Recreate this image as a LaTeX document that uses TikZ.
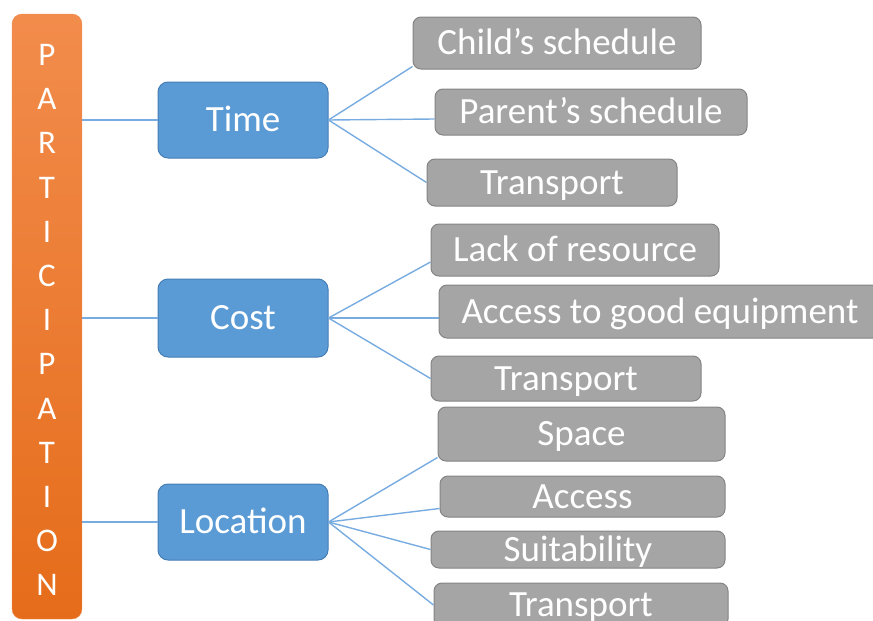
\documentclass[tikz,border=0pt]{standalone}
\usepackage{fontspec}
\setmainfont{Carlito}
\usepackage{tikz}
\usetikzlibrary{positioning}

\definecolor{barTop}{RGB}{242,140,76}
\definecolor{barBottom}{RGB}{229,108,26}
\definecolor{topicBlue}{RGB}{91,155,213}
\definecolor{topicEdge}{RGB}{70,125,180}
\definecolor{factorGray}{RGB}{165,165,165}
\definecolor{factorEdge}{RGB}{132,132,132}
\definecolor{linkBlue}{RGB}{120,172,224}

\begin{document}
\begin{tikzpicture}[
    x=1pt, y=-1pt,
    every node/.style = {
      shape=rectangle,
      rounded corners=8pt,
      align=center,
      inner sep=0pt,
      text=white
    },
    topic/.style = {
      fill=topicBlue, draw=topicEdge, line width=1pt,
      minimum width=170pt, rounded corners=10pt,
      font=\fontsize{37}{42}\selectfont,
      text height=23pt, text depth=0pt
    },
    factor/.style = {
      fill=factorGray, draw=factorEdge, line width=1pt,
      font=\fontsize{37}{42}\selectfont,
      text height=23pt, text depth=0pt
    },
    link/.style = {draw=linkBlue, line width=1.4pt}
  ]
    \useasboundingbox (0,0) rectangle (873,621);
    \clip (0,0) rectangle (873,621);

    % Participation bar
    \node[top color=barTop, bottom color=barBottom, draw=barTop,
      minimum width=70pt, minimum height=605pt, rounded corners=10pt]
      (bar) at (47,316.5) {};
    \foreach \ltr [count=\i] in {P,A,R,T,I,C,I,P,A,T,I,O,N}
      \node[font=\fontsize{33}{38}\selectfont, text height=21pt, text depth=0pt]
        (letter\i) at (47,{55+44.2*(\i-1)}) {\ltr};

    % Topics
    \node[topic, minimum height=76pt] (time)  at (243,120) {Time};
    \node[topic, minimum height=78pt] (cost)  at (243,318) {Cost};
    \node[topic, minimum height=76pt] (place) at (243,522) {Location};

    % Time group
    \node[factor, minimum width=288pt, minimum height=52pt] (child)  at (557,43)    {Child’s schedule};
    \node[factor, minimum width=312pt, minimum height=46pt] (parent) at (591,112)   {Parent’s schedule};
    \node[factor, minimum width=250pt, minimum height=47pt] (trans1) at (552,182.5) {Transport};

    % Cost group
    \node[factor, minimum width=288pt, minimum height=52pt] (lack)   at (575,250)   {Lack of resource};
    \node[factor, minimum width=442pt, minimum height=53pt] (equip)  at (660,311.5) {Access to good equipment};
    \node[factor, minimum width=270pt, minimum height=45pt] (trans2) at (566,378.5) {Transport};

    % Location group
    \node[factor, minimum width=287pt, minimum height=54pt] (space)  at (581.5,434) {Space};
    \node[factor, minimum width=285pt, minimum height=41pt] (access) at (582.5,496.5) {Access};
    \node[factor, minimum width=294pt, minimum height=37pt] (suit)   at (578,549.5) {Suitability};
    \node[factor, minimum width=294pt, minimum height=44pt] (trans3) at (581,605)   {Transport};

    % Participation to topics
    \draw[link] (bar.east |- time.west)  -- (time.west);
    \draw[link] (bar.east |- cost.west)  -- (cost.west);
    \draw[link] (bar.east |- place.west) -- (place.west);

    % Time links
    \draw[link] (time.east) -- ([yshift=3pt]child.south west);
    \draw[link] (time.east) -- ([yshift=-7pt]parent.west);
    \draw[link] (time.east) -- (trans1.west);

    % Cost links
    \draw[link] (cost.east) -- ([yshift=-12pt]lack.west);
    \draw[link] (cost.east) -- (cost.east -| equip.west);
    \draw[link] (cost.east) -- (trans2.west);

    % Location links
    \draw[link] (place.east) -- ([yshift=4pt]space.south west);
    \draw[link] (place.east) -- ([yshift=-12pt]access.west);
    \draw[link] (place.east) -- (suit.west);
    \draw[link] (place.east) -- (trans3.west);
  \end{tikzpicture}
\end{document}
